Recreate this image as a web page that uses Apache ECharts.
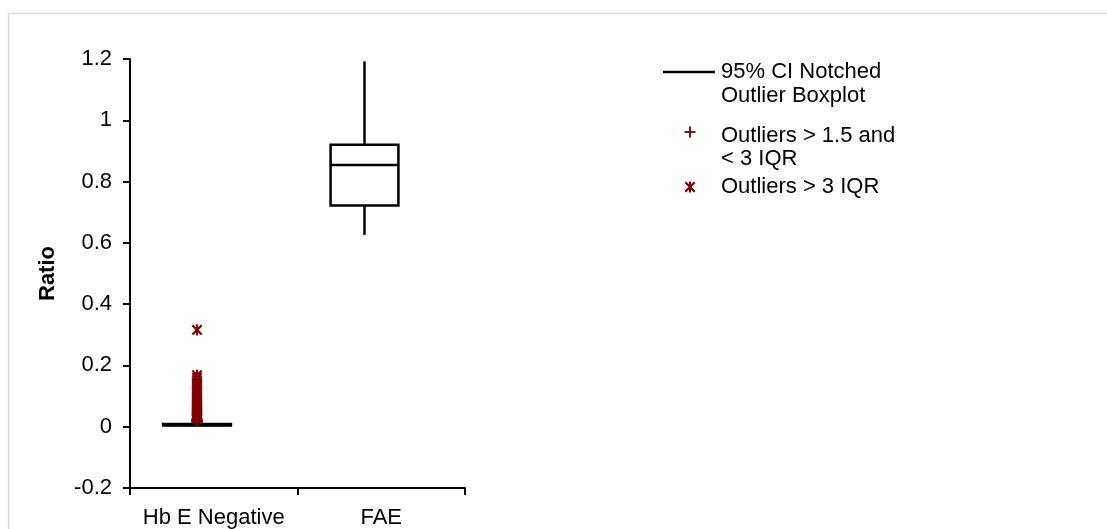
<!DOCTYPE html>
<html>
<head>
<meta charset="utf-8">
<script src="https://cdn.jsdelivr.net/npm/echarts@6/dist/echarts.min.js"></script>
<style>
html,body{margin:0;padding:0;background:#fff;}
#chart{width:1107px;height:529px;}
</style>
</head>
<body>
<div id="chart"></div>
<script>
// ---- data ----
const categories = ['Hb E Negative', 'FAE'];
// [min, Q1, median, Q3, max]
const boxHbENegative = [0.002, 0.004, 0.006, 0.009, 0.013];
const boxFAE = [0.626, 0.722, 0.854, 0.920, 1.192];
// outliers for Hb E Negative
const outliersMildHbE = [0.017, 0.019, 0.021, 0.023];
const outliersExtremeHbE = [0.316, 0.168, 0.160, 0.152, 0.145, 0.138, 0.131, 0.125, 0.119, 0.113,
  0.107, 0.101, 0.096, 0.091, 0.086, 0.081, 0.077, 0.073, 0.069, 0.065, 0.061, 0.058,
  0.055, 0.052, 0.049, 0.046, 0.043, 0.040, 0.038, 0.036, 0.034, 0.032, 0.030, 0.028,
  0.026, 0.025];
const outliersMildFAE = [];
const outliersExtremeFAE = [];
const yTickLabels = ['-0.2', '0', '0.2', '0.4', '0.6', '0.8', '1', '1.2'];
const legendNames = ['95% CI Notched\nOutlier Boxplot', 'Outliers > 1.5 and\n< 3 IQR', 'Outliers > 3 IQR'];

// ---- style ----
const BOX_SHIFT = -0.1;      // fraction of category band
const BOX_WIDTH = 0.405;     // fraction of category band
const DARK_RED = '#800000';
const FONT = '"Liberation Sans", Arial, sans-serif';
const FS = 22;

const boxData = [
  [0].concat(boxHbENegative),
  [1].concat(boxFAE)
];
const outlierData = [];
outliersMildHbE.forEach(v => outlierData.push([0, v, 0]));
outliersExtremeHbE.forEach(v => outlierData.push([0, v, 1]));
outliersMildFAE.forEach(v => outlierData.push([1, v, 0]));
outliersExtremeFAE.forEach(v => outlierData.push([1, v, 1]));

function markerShapes(cx, cy, kind, r, color, lw) {
  const st = {stroke: color, lineWidth: lw, fill: null};
  if (kind === 0) {
    return [
      {type: 'line', shape: {x1: cx - r, y1: cy, x2: cx + r, y2: cy}, style: st},
      {type: 'line', shape: {x1: cx, y1: cy - r, x2: cx, y2: cy + r}, style: st}
    ];
  }
  const d = r * 0.85;
  return [
    {type: 'line', shape: {x1: cx - d, y1: cy - d, x2: cx + d, y2: cy + d}, style: st},
    {type: 'line', shape: {x1: cx - d, y1: cy + d, x2: cx + d, y2: cy - d}, style: st},
    {type: 'line', shape: {x1: cx, y1: cy - r, x2: cx, y2: cy + r}, style: st}
  ];
}

const chart = echarts.init(document.getElementById('chart'), null, {renderer: 'canvas'});
const option = {
  animation: false,
  backgroundColor: '#ffffff',
  grid: {left: 130, top: 59, width: 335, bottom: 41, containLabel: false, outerBoundsMode: 'none'},
  xAxis: {
    type: 'category',
    data: categories,
    boundaryGap: true,
    axisLine: {onZero: false, lineStyle: {color: '#000', width: 2}},
    axisTick: {show: true, length: 7, lineStyle: {color: '#000', width: 2}},
    axisLabel: {color: '#000', fontFamily: FONT, fontSize: FS, margin: 19, interval: 0},
    splitLine: {show: false}
  },
  yAxis: {
    type: 'value',
    min: -0.2, max: 1.2, interval: 0.2,
    name: 'Ratio',
    nameLocation: 'middle',
    nameGap: 71,
    nameRotate: 90,
    nameTextStyle: {color: '#000', fontFamily: FONT, fontSize: FS, fontWeight: 'bold'},
    axisLine: {show: true, lineStyle: {color: '#000', width: 2}},
    axisTick: {show: true, length: 7, lineStyle: {color: '#000', width: 2}},
    axisLabel: {
      color: '#000', fontFamily: FONT, fontSize: FS, margin: 18,
      formatter: function (v) {
        const i = Math.round((v + 0.2) / 0.2);
        return yTickLabels[i] !== undefined ? yTickLabels[i] : String(v);
      }
    },
    splitLine: {show: false}
  },
  series: [
    {
      name: legendNames[0],
      type: 'custom',
      data: boxData,
      encode: {x: 0, y: [1, 2, 3, 4, 5]},
      renderItem: function (params, api) {
        const idx = api.value(0);
        const band = api.size([1, 0])[0];
        const shift = BOX_SHIFT * band;
        const half = BOX_WIDTH * band / 2;
        const pMin = api.coord([idx, api.value(1)]);
        const pQ1 = api.coord([idx, api.value(2)]);
        const pMed = api.coord([idx, api.value(3)]);
        const pQ3 = api.coord([idx, api.value(4)]);
        const pMax = api.coord([idx, api.value(5)]);
        const cx = pMed[0] + shift;
        const st = {stroke: '#000', lineWidth: 2.5, fill: null};
        return {
          type: 'group',
          children: [
            {type: 'line', shape: {x1: cx, y1: pQ3[1], x2: cx, y2: pMax[1]}, style: st},
            {type: 'line', shape: {x1: cx, y1: pQ1[1], x2: cx, y2: pMin[1]}, style: st},
            {type: 'rect', shape: {x: cx - half, y: pQ3[1], width: 2 * half, height: pQ1[1] - pQ3[1]}, style: {stroke: '#000', lineWidth: 2.5, fill: '#fff'}},
            {type: 'line', shape: {x1: cx - half, y1: pMed[1], x2: cx + half, y2: pMed[1]}, style: st}
          ]
        };
      }
    },
    {
      name: 'Outliers',
      type: 'custom',
      data: outlierData,
      encode: {x: 0, y: 1},
      z: 3,
      renderItem: function (params, api) {
        const idx = api.value(0);
        const band = api.size([1, 0])[0];
        const p = api.coord([idx, api.value(1)]);
        const cx = p[0] + BOX_SHIFT * band;
        return {type: 'group', children: markerShapes(cx, p[1], api.value(2), 5.5, DARK_RED, 2.2)};
      }
    }
  ],
  graphic: [
    {type: 'rect', silent: true, z: -10, shape: {x: 8.5, y: 13.5, width: 1100, height: 600},
      style: {fill: null, stroke: '#d9d9d9', lineWidth: 1.5}},
    // legend
    {type: 'line', shape: {x1: 663, y1: 72, x2: 715, y2: 72}, style: {stroke: '#000', lineWidth: 2.5}},
    {type: 'text', left: 721, top: 60, style: {text: legendNames[0], fill: '#000', font: FS + 'px ' + FONT, lineHeight: 24}},
    {type: 'group', children: markerShapes(690, 132, 0, 5.5, DARK_RED, 1.8)},
    {type: 'text', left: 721, top: 124, style: {text: legendNames[1], fill: '#000', font: FS + 'px ' + FONT, lineHeight: 23}},
    {type: 'group', children: markerShapes(690, 187, 1, 5.5, DARK_RED, 2.2)},
    {type: 'text', left: 721, top: 175, style: {text: legendNames[2], fill: '#000', font: FS + 'px ' + FONT, lineHeight: 24}}
  ]
};
chart.setOption(option);
</script>
</body>
</html>
